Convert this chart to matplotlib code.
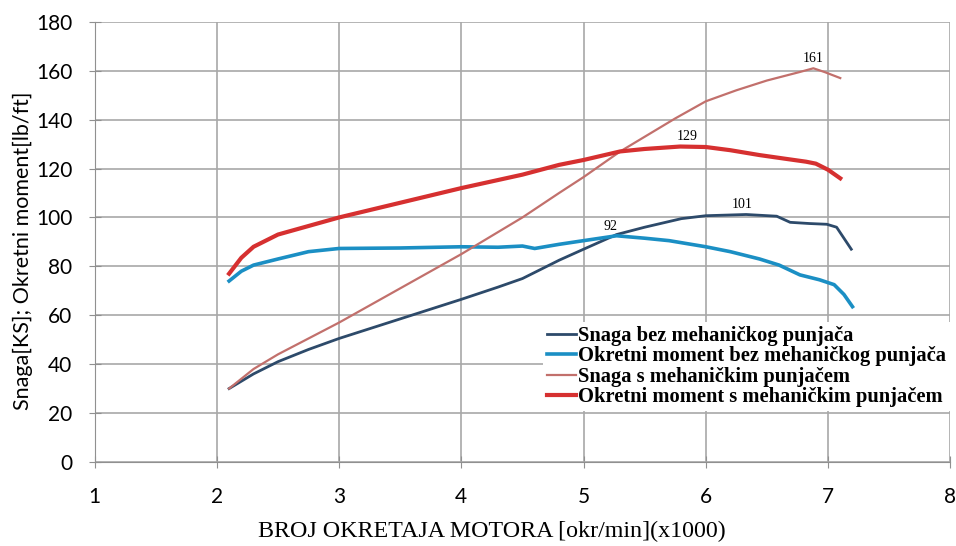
import numpy as np
import matplotlib.pyplot as plt

# rpm (x1000)
rpm_snaga_bez = [2.1, 2.3, 2.5, 2.75, 3.0, 3.5, 4.0, 4.3, 4.5, 4.8, 5.0, 5.27, 5.5, 5.8, 6.0, 6.33, 6.58, 6.69, 6.85, 6.99, 7.07, 7.19]
snaga_bez = [30, 36, 41, 46, 50.5, 58.5, 66.5, 71.5, 75, 82.5, 87, 93, 96, 99.5, 100.7, 101.2, 100.5, 98, 97.5, 97.2, 96, 87]

rpm_moment_bez = [2.1, 2.2, 2.3, 2.5, 2.75, 3.0, 3.5, 4.0, 4.3, 4.5, 4.6, 4.8, 5.0, 5.27, 5.5, 5.7, 6.0, 6.2, 6.44, 6.6, 6.77, 6.93, 7.05, 7.13, 7.2]
moment_bez = [74, 78, 80.5, 83, 86, 87.3, 87.5, 88, 87.8, 88.3, 87.3, 89, 90.5, 92.5, 91.5, 90.5, 88, 86, 83, 80.5, 76.5, 74.5, 72.5, 68.5, 63.5]

rpm_snaga_s = [2.1, 2.3, 2.5, 2.75, 3.0, 3.5, 4.0, 4.5, 4.8, 5.0, 5.3, 5.5, 5.75, 6.0, 6.25, 6.5, 6.77, 6.88, 6.97, 7.1]
snaga_s = [30, 38, 44, 50.5, 57, 71, 85, 100, 110, 116.5, 127, 133, 140.5, 147.5, 152, 156, 159.5, 161, 159.5, 157]

rpm_moment_s = [2.1, 2.2, 2.3, 2.5, 2.75, 3.0, 3.5, 4.0, 4.5, 4.8, 5.0, 5.3, 5.5, 5.79, 6.0, 6.2, 6.44, 6.65, 6.82, 6.9, 7.0, 7.1]
moment_s = [77, 83.5, 88, 93, 96.5, 100, 106, 112, 117.5, 121.5, 123.5, 127, 128, 129, 128.8, 127.5, 125.5, 124, 122.8, 122, 119.5, 116]

labels = ["Snaga bez mehaničkog punjača", "Okretni moment bez mehaničkog punjača",
          "Snaga s mehaničkim punjačem", "Okretni moment s mehaničkim punjačem"]

peaks = [(5.22, 93.5, "92"), (6.3, 102.5, "101"), (5.85, 130.5, "129"), (6.88, 162.5, "161")]

fig = plt.figure(figsize=(9.56, 5.46), dpi=100)
ax = fig.add_axes([0.099, 0.154, 0.895, 0.806])

ax.plot(rpm_snaga_bez, snaga_bez, color="#2d4a6a", lw=2, label=labels[0])
ax.plot(rpm_moment_bez, moment_bez, color="#1b8fc4", lw=2.6, label=labels[1])
ax.plot(rpm_snaga_s, snaga_s, color="#c2706c", lw=1.6, label=labels[2])
ax.plot(rpm_moment_s, moment_s, color="#d63030", lw=3, label=labels[3])

for x, y, t in peaks:
    ax.text(x, y, t, ha="center", va="bottom", fontsize=10, family="Liberation Serif")

ax.set_xlim(1, 8)
ax.set_ylim(0, 180)
ax.set_xticks(np.arange(1, 9))
ax.set_yticks(np.arange(0, 181, 20))
ax.grid(True, color="#a8a8a8", lw=1.2)
ax.set_axisbelow(True)
for s in ["top", "right"]:
    ax.spines[s].set_visible(False)
for s in ["left", "bottom"]:
    ax.spines[s].set_color("#909090")
ax.tick_params(direction="inout", length=8, color="#909090", labelsize=15, pad=12)
for lab in ax.get_xticklabels() + ax.get_yticklabels():
    lab.set_family("Lato")
ax.tick_params(axis="x", pad=14)

ax.set_ylabel("Snaga[KS]; Okretni moment[lb/ft]", fontsize=15.5, family="Lato")
ax.yaxis.set_label_coords(-(95 - 33) / (0.895 * 956), 0.48)
fig.text(492 / 956, 1 - 531 / 546, "BROJ OKRETAJA MOTORA [okr/min](x1000)", ha="center", va="center",
         fontsize=17.3, family="Liberation Serif")

leg = ax.legend(loc="lower right", bbox_to_anchor=(1.0, 0.115), frameon=True, fancybox=False,
                handlelength=1.4, handletextpad=0.1, borderaxespad=0, labelspacing=0.02,
                borderpad=0.2,
                prop={"family": "Liberation Serif", "size": 14.8, "weight": "bold"})
leg.get_frame().set_edgecolor("none")
leg.get_frame().set_facecolor("white")
leg.get_frame().set_alpha(1)

fig.savefig("out.png", dpi=100)
